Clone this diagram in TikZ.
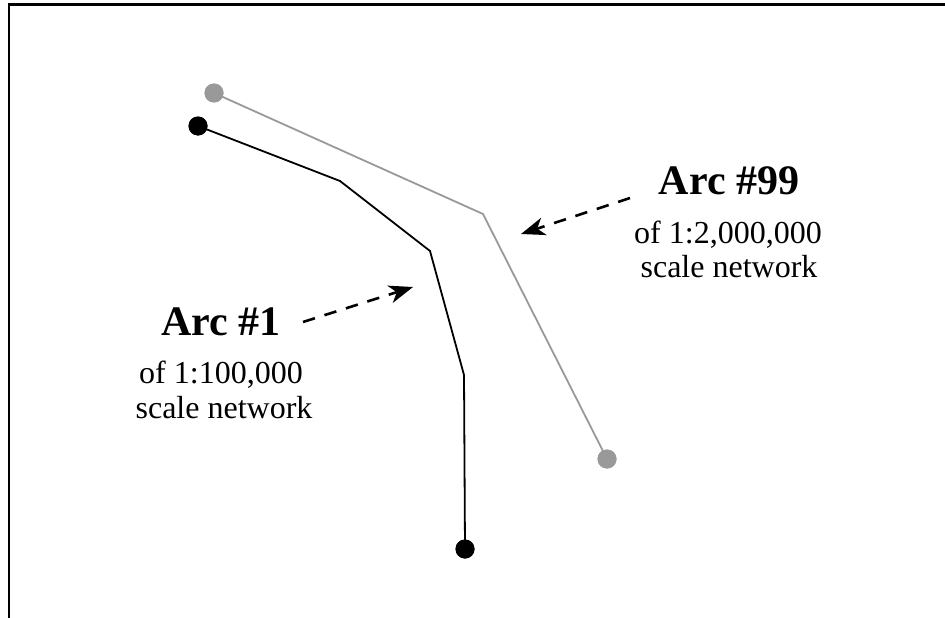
\documentclass[tikz,border=0pt]{standalone}
\usepackage{fontspec}
\setmainfont{Liberation Serif}
\usetikzlibrary{arrows.meta}
\definecolor{arcgray}{RGB}{153,153,153}
\tikzset{
  frameline/.style={line width=2.2pt,black},
  arcline/.style={line width=1.8pt},
  dot/.style={circle,fill,inner sep=0pt,minimum size=19pt},
  pointer/.style={line width=2.6pt,dash pattern=on 12.5pt off 10pt,
    -{Stealth[length=24pt,width=18pt,inset=7pt]}},
  title/.style={anchor=base,font=\fontsize{42}{42}\selectfont\bfseries,inner sep=0pt},
  sub/.style={anchor=base,font=\fontsize{32}{32}\selectfont,inner sep=0pt}
}
\begin{document}
\begin{tikzpicture}[x=1pt,y=-1pt]
\useasboundingbox (0,0) rectangle (945,618);
% frame
\coordinate (fr1) at (945,4.5);
\coordinate (fr2) at (9,4.5);
\coordinate (fr3) at (9,618);
\draw[frameline] (fr1) -- (fr2) -- (fr3);
% gray arc #99
\coordinate (g2) at (483,214);
\node[dot,arcgray] (g1) at (214,93) {};
\node[dot,arcgray] (g3) at (607,459) {};
% black arc #1
\coordinate (b2) at (340,181);
\coordinate (b3) at (430,251);
\coordinate (b4) at (464,375);
\node[dot,black] (b1) at (198,126) {};
\node[dot,black] (b5) at (465,549) {};
\draw[arcline,arcgray] (g1.center) -- (g2) -- (g3.center);
\draw[arcline,black] (b1.center) -- (b2) -- (b3) -- (b4) -- (b5.center);
\node[dot,arcgray] at (g1) {};
\node[dot,arcgray] at (g3) {};
\node[dot,black] at (b1) {};
\node[dot,black] at (b5) {};
% labels
\node[title] (t99) at (729,194) {Arc \#99};
\node[sub] (s99a) at (728,243) {of 1:2,000,000};
\node[sub] (s99b) at (729,277) {scale network};
\node[title] (t1) at (221,335) {Arc \#1};
\node[sub] (s1a) at (221,383) {of 1:100,000};
\node[sub] (s1b) at (224,418) {scale network};
% pointers
\coordinate (p1s) at (303,322);
\coordinate (p1e) at (413,287);
\coordinate (p2s) at (630,198);
\coordinate (p2e) at (521,234);
\draw[pointer] (p1s) -- (p1e);
\draw[pointer] (p2s) -- (p2e);
\end{tikzpicture}
\end{document}
